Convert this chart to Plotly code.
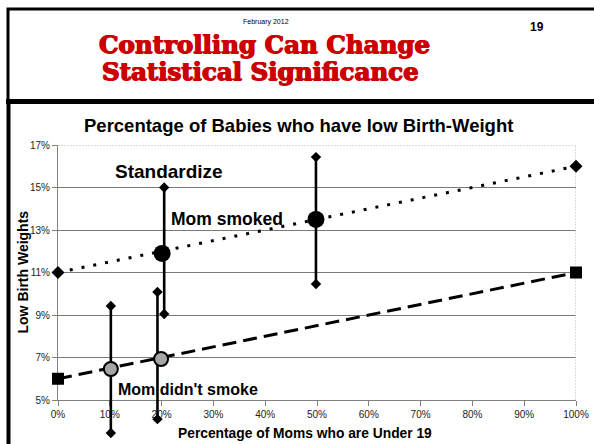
import plotly.graph_objects as go

# ---------------- data ----------------
pct_under19_ends = [0, 100]
smoked_line = [11, 16]
nonsmoked_line = [6, 11]

smoked_pts_x = [20.1, 49.8]
smoked_pts_y = [11.9, 13.5]
nonsmoked_pts_x = [10.2, 19.9]
nonsmoked_pts_y = [6.46, 6.93]

ci_x = [10.2, 19.2, 20.5, 49.8]
ci_low = [3.45, 4.1, 9.05, 10.46]
ci_high = [9.42, 10.08, 15.0, 16.43]

y_ticks = [5, 7, 9, 11, 13, 15, 17]
y_labels = ["5%", "7%", "9%", "11%", "13%", "15%", "17%"]
x_ticks = [0, 10, 20, 30, 40, 50, 60, 70, 80, 90, 100]
x_labels = ["0%", "10%", "20%", "30%", "40%", "50%", "60%", "70%", "80%", "90%", "100%"]

# ---------------- layout geometry ----------------
W, H = 594, 444
L, R, T, B = 58, 18, 145, 2
PW, PH = W - L - R, H - T - B
y_axis_bottom_px = 400
d0 = (H - B - y_axis_bottom_px) / PH
y2_low = 5 - (17 - 5) * d0 / (1 - d0)


def px(x):
    return (x - L) / PW


def py(y):
    return (H - B - y) / PH


FONT = "Liberation Sans, Arial, sans-serif"
RED = "#cc0000"

fig = go.Figure()

# error bars
ex, ey = [], []
for xv, lo, hi in zip(ci_x, ci_low, ci_high):
    ex += [xv, xv, None]
    ey += [lo, hi, None]
fig.add_trace(go.Scatter(x=ex, y=ey, mode="lines+markers", xaxis="x2", yaxis="y2",
                         line=dict(color="black", width=2.6),
                         marker=dict(symbol="diamond", size=8, color="black"),
                         cliponaxis=False, showlegend=False, hoverinfo="skip"))

# trend lines
fig.add_trace(go.Scatter(x=pct_under19_ends, y=smoked_line, mode="lines+markers", xaxis="x2", yaxis="y2",
                         line=dict(color="black", width=3, dash="3px,9px"),
                         marker=dict(symbol="diamond", size=10, color="black"),
                         cliponaxis=False, showlegend=False))
fig.add_trace(go.Scatter(x=pct_under19_ends, y=nonsmoked_line, mode="lines+markers", xaxis="x2", yaxis="y2",
                         line=dict(color="black", width=3, dash="14px,7px"),
                         marker=dict(symbol="square", size=12, color="black"),
                         cliponaxis=False, showlegend=False))

# points
fig.add_trace(go.Scatter(x=smoked_pts_x, y=smoked_pts_y, mode="markers", xaxis="x2", yaxis="y2",
                         marker=dict(symbol="circle", size=17, color="black"),
                         cliponaxis=False, showlegend=False))
fig.add_trace(go.Scatter(x=nonsmoked_pts_x, y=nonsmoked_pts_y, mode="markers", xaxis="x2", yaxis="y2",
                         marker=dict(symbol="circle", size=14, color="#a6a6a6",
                                     line=dict(color="black", width=2)),
                         cliponaxis=False, showlegend=False))

# frame shapes
shapes = [
    dict(type="rect", xref="paper", yref="paper", x0=px(8), x1=px(610), y0=py(9), y1=py(101),
         line=dict(color="black", width=3)),
    dict(type="line", xref="paper", yref="paper", x0=px(6), x1=px(610), y0=py(101.5), y1=py(101.5),
         line=dict(color="black", width=5)),
    dict(type="line", xref="paper", yref="paper", x0=px(8.5), x1=px(8.5), y0=py(101), y1=py(450),
         line=dict(color="black", width=4)),
    # top & right plot borders (light)
    dict(type="line", xref="x", yref="y", x0=0, x1=100, y0=17, y1=17, layer="between",
         line=dict(color="white", width=2)),
    dict(type="line", xref="x", yref="y", x0=0, x1=100, y0=17, y1=17, layer="between",
         line=dict(color="#bdbdbd", width=1, dash="2px,1px")),
    dict(type="line", xref="x", yref="y", x0=100, x1=100, y0=5, y1=17, layer="between",
         line=dict(color="#bdbdbd", width=1, dash="2px,1px")),
]

title_shadow = "0.7px 0 0 %s, -0.7px 0 0 %s, 0 0.5px 0 %s" % (RED, RED, RED)
annotations = [
    dict(text="February 2012", x=px(266), y=py(22), font=dict(size=7, family=FONT, color="black")),
    dict(text="<b>19</b>", x=px(537), y=py(27), font=dict(size=12, family=FONT, color="black")),
    dict(text="<b>Controlling Can Change</b>", x=px(264), y=py(44),
         font=dict(size=24.5, family="DejaVu Serif, serif", color=RED, shadow=title_shadow)),
    dict(text="<b>Statistical Significance</b>", x=px(260), y=py(71.5),
         font=dict(size=24.5, family="DejaVu Serif, serif", color=RED, shadow=title_shadow)),
    dict(text="<b>Percentage of Babies who have low Birth-Weight</b>", x=px(298), y=py(126),
         font=dict(size=18.5, family=FONT, color="black")),
    dict(text="<b>Standardize</b>", x=px(169), y=py(171), font=dict(size=19, family=FONT, color="black")),
    dict(text="<b>Mom smoked</b>", x=px(227), y=py(218.5), font=dict(size=17.5, family=FONT, color="black")),
    dict(text="<b>Mom didn't smoke</b>", x=px(187.5), y=py(389.5), font=dict(size=16, family=FONT, color="black")),
    dict(text="<b>Low Birth Weights</b>", x=px(22), y=py(272.5), textangle=-90,
         font=dict(size=14, family=FONT, color="black")),
    dict(text="<b>Percentage of Moms who are Under 19</b>", x=px(305), y=py(433),
         font=dict(size=13.8, family=FONT, color="black")),
]
for a in annotations:
    a.update(xref="paper", yref="paper", showarrow=False, xanchor="center", yanchor="middle")

fig.update_layout(
    width=W, height=H,
    margin=dict(l=L, r=R, t=T, b=B, pad=0, autoexpand=False),
    paper_bgcolor="white", plot_bgcolor="rgba(0,0,0,0)",
    showlegend=False,
    shapes=shapes, annotations=annotations,
    xaxis=dict(range=[0, 100], domain=[0, 1], anchor="y", tickvals=x_ticks, ticktext=x_labels,
               showgrid=False, showline=True, linecolor="#808080", linewidth=1, automargin=False,
               ticks="outside", ticklen=5, tickcolor="#808080", zeroline=False,
               tickfont=dict(size=10, family=FONT, color="#222")),
    yaxis=dict(range=[5, 17], domain=[d0, 1], anchor="x", tickvals=y_ticks, ticktext=y_labels,
               showgrid=True, gridcolor="#7a7a7a", gridwidth=1, automargin=False,
               showline=True, linecolor="#808080", linewidth=1,
               ticks="outside", ticklen=5, tickcolor="#808080", zeroline=False,
               tickfont=dict(size=10, family=FONT, color="#222")),
    xaxis2=dict(range=[0, 100], domain=[0, 1], anchor="y2", visible=False, automargin=False),
    yaxis2=dict(range=[y2_low, 17], domain=[0, 1], anchor="x2", visible=False, automargin=False),
)

fig.write_html("out.html", config={"displayModeBar": False},
               post_script="document.body.style.margin='0';document.body.style.overflow='hidden';")
